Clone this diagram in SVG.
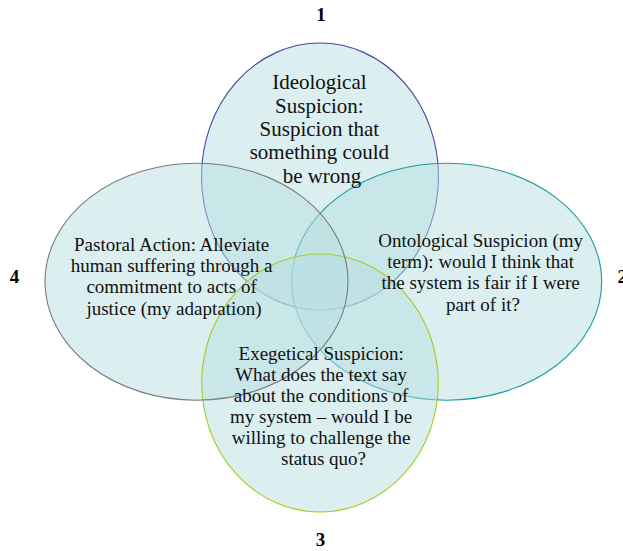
<svg xmlns="http://www.w3.org/2000/svg" width="623" height="551" viewBox="0 0 623 551">
  <style>
    .fill { fill: #b7dde1; fill-opacity: 0.5; }
    .edge { fill: none; stroke-width: 1.1; }
    .t { font-family: "Liberation Serif", "Times New Roman", serif; fill: #111; text-anchor: middle; }
    .num { font-family: "Liberation Serif", "Times New Roman", serif; font-weight: bold; font-size: 19px; fill: #000; }
  </style>
  <rect width="623" height="551" fill="#ffffff"/>
  <g id="shapes">
    <g id="node-1">
      <ellipse class="fill" cx="320" cy="176.5" rx="118.5" ry="133.5"/>
      <ellipse class="edge" cx="320" cy="176.5" rx="118.5" ry="133.5" stroke="#4444a4"/>
    </g>
    <g id="node-2">
      <ellipse class="fill" cx="446.7" cy="281.7" rx="155" ry="118.5"/>
      <ellipse class="edge" cx="446.7" cy="281.7" rx="155" ry="118.5" stroke="#1c9c9c"/>
    </g>
    <g id="node-3">
      <ellipse class="fill" cx="320" cy="383" rx="118.3" ry="129"/>
    </g>
    <g id="node-4">
      <ellipse class="fill" cx="196.5" cy="281.7" rx="151.5" ry="118.5"/>
    </g>
    <g id="node-3-outline">
      <ellipse class="edge" cx="320" cy="383" rx="118.3" ry="129" stroke="#a6cc22"/>
    </g>
    <g id="node-4-outline">
      <ellipse class="edge" cx="196.5" cy="281.7" rx="151.5" ry="118.5" stroke="#7a7a7a"/>
    </g>
  </g>
  <g id="labels">
    <g id="label-1">
      <text class="t" font-size="21" x="322">
        <tspan x="322" y="89.3">Ideological</tspan>
        <tspan x="322" y="112.6">Suspicion:</tspan>
        <tspan x="322" y="136">Suspicion that</tspan>
        <tspan x="322" y="159.3">something could</tspan>
        <tspan x="322" y="182.6">be wrong</tspan>
      </text>
    </g>
    <g id="label-2">
      <text class="t" font-size="19" x="483">
        <tspan x="483" y="246.7">Ontological Suspicion (my</tspan>
        <tspan x="483" y="268">term): would I think that</tspan>
        <tspan x="483" y="289.3">the system is fair if I were</tspan>
        <tspan x="483" y="310.5">part of it?</tspan>
      </text>
    </g>
    <g id="label-3">
      <text class="t" font-size="19" x="323.5">
        <tspan x="323.5" y="360">Exegetical Suspicion:</tspan>
        <tspan x="323.5" y="381">What does the text say</tspan>
        <tspan x="323.5" y="402">about the conditions of</tspan>
        <tspan x="323.5" y="423">my system – would I be</tspan>
        <tspan x="323.5" y="444">willing to challenge the</tspan>
        <tspan x="323.5" y="465">status quo?</tspan>
      </text>
    </g>
    <g id="label-4">
      <text class="t" font-size="19" x="174">
        <tspan x="174" y="250.7">Pastoral Action: Alleviate</tspan>
        <tspan x="174" y="272">human suffering through a</tspan>
        <tspan x="174" y="293.3">commitment to acts of</tspan>
        <tspan x="174" y="314.5">justice (my adaptation)</tspan>
      </text>
    </g>
    <g id="numbers">
      <text class="num" x="321" y="20.7" text-anchor="middle">1</text>
      <text class="num" x="617.5" y="283">2</text>
      <text class="num" x="320.5" y="545.5" text-anchor="middle">3</text>
      <text class="num" x="14.5" y="282.5" text-anchor="middle">4</text>
    </g>
  </g>
</svg>
